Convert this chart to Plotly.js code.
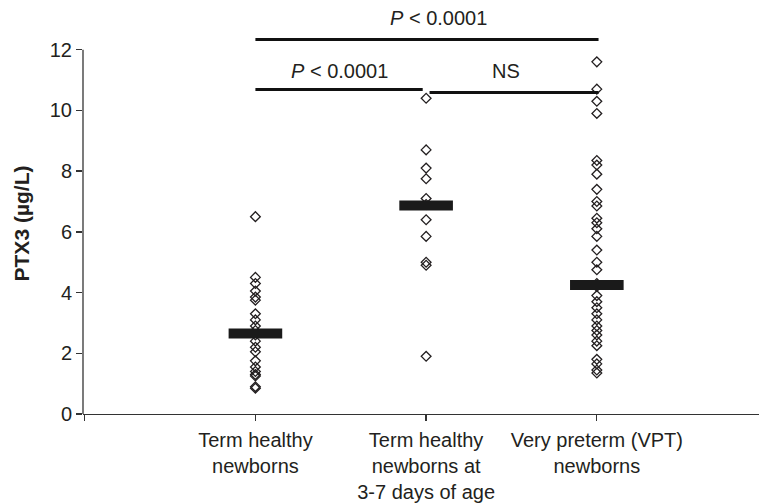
<!DOCTYPE html>
<html>
<head>
<meta charset="utf-8">
<script src="https://cdn.plot.ly/plotly-3.0.1.min.js"></script>
<style>html,body{margin:0;padding:0;background:#fff;}#chart{width:759px;height:504px;}</style>
</head>
<body>
<div id="chart"></div>
<script>
// ---- data ----
const categories = ["Term healthy<br>newborns", "Term healthy<br>newborns at<br>3-7 days of age", "Very preterm (VPT)<br>newborns"];
const termHealthy = [6.5, 4.5, 4.3, 4.05, 3.85, 3.75, 3.3, 3.1, 2.9, 2.75, 2.6, 2.4, 2.2, 2.05, 1.75, 1.55, 1.4, 1.3, 1.25, 0.9, 0.85];
const termHealthy37 = [10.4, 8.7, 8.1, 7.75, 7.1, 6.9, 6.4, 5.85, 5.0, 4.9, 1.9];
const veryPreterm = [11.6, 10.7, 10.3, 9.9, 8.35, 8.2, 7.9, 7.4, 7.0, 6.85, 6.45, 6.3, 6.1, 5.85, 5.4, 5.0, 4.75, 4.3, 4.2, 3.9, 3.7, 3.5, 3.3, 3.1, 2.9, 2.75, 2.6, 2.4, 2.25, 1.8, 1.65, 1.45, 1.35];
const medians = [2.65, 6.87, 4.25];
const yTicks = [0, 2, 4, 6, 8, 10, 12];
// significance brackets
const bracketFrom = [1, 1, 2];
const bracketTo = [3, 2, 3];
const bracketLevel = [12.34, 10.69, 10.59];
const bracketLabels = ["<i>P</i> &lt; 0.0001", "<i>P</i> &lt; 0.0001", "NS"];
const bracketLabelLevel = [13.06, 11.31, 11.31];

const groups = [termHealthy, termHealthy37, veryPreterm];
const ink = "#231f20";
const FONT = "Liberation Sans, Arial, Helvetica, sans-serif";
const yMax = 12.55;

const traces = [];
groups.forEach((vals, i) => {
  traces.push({
    type: "scatter", mode: "markers",
    x: vals.map(() => i + 1), y: vals,
    marker: {symbol: "diamond-open", size: 7.5, color: ink, line: {width: 1.3, color: ink}},
    cliponaxis: false, hoverinfo: "y", showlegend: false
  });
});
const half = 0.157;
medians.forEach((m, i) => {
  traces.push({
    type: "scatter", mode: "lines",
    x: [i + 1 - half, i + 1 + half], y: [m, m],
    line: {color: "#1a1a1a", width: 10}, showlegend: false, hoverinfo: "skip"
  });
});
bracketFrom.forEach((f, i) => {
  const a = f === 1 ? 1.0 : f + 0.02;
  const b = bracketTo[i] === 3 ? 3.01 : bracketTo[i] - 0.02;
  traces.push({
    type: "scatter", mode: "lines",
    x: [a, b], y: [bracketLevel[i], bracketLevel[i]],
    line: {color: "#111", width: 3}, showlegend: false, hoverinfo: "skip"
  });
});

const annotations = bracketLabels.map((t, i) => ({
  text: t, xref: "x", yref: "paper",
  x: (bracketFrom[i] + bracketTo[i]) / 2 + (i === 0 ? 0.07 : (i === 2 ? -0.03 : -0.01)),
  y: bracketLabelLevel[i] / yMax, showarrow: false,
  font: {family: FONT, size: 20, color: ink}, xanchor: "center", yanchor: "middle"
}));

const layout = {
  width: 759, height: 504,
  margin: {l: 83, r: 0, t: 33, b: 90},
  paper_bgcolor: "#fff", plot_bgcolor: "#fff",
  font: {family: FONT, size: 20, color: ink},
  showlegend: false,
  xaxis: {
    range: [-0.01, 3.95], tickmode: "array",
    tickvals: [0, 1, 2, 3], ticktext: ["", ...categories],
    ticks: "outside", ticklen: 6, tickwidth: 1.3, tickcolor: "#333",
    ticklabelstandoff: 2,
    showline: true, linecolor: "#333", linewidth: 1.3,
    showgrid: false, zeroline: false, fixedrange: true,
    tickfont: {family: FONT, size: 20, color: ink}
  },
  yaxis: {
    range: [0, yMax], tickmode: "array", tickvals: yTicks,
    ticktext: yTicks.map(String),
    ticks: "outside", ticklen: 6, tickwidth: 1.3, tickcolor: "#333",
    showline: false, showgrid: false, zeroline: false, fixedrange: true,
    tickfont: {family: FONT, size: 20, color: ink},
    title: {text: "<b>PTX3 (µg/L)</b>", font: {family: FONT, size: 21, color: ink}, standoff: 14}
  },
  shapes: [
    {type: "line", xref: "paper", yref: "y", x0: 0, x1: 0, y0: 0, y1: yTicks[yTicks.length - 1],
     line: {color: "#333", width: 1.3}}
  ],
  annotations: annotations
};

Plotly.newPlot("chart", traces, layout, {displayModeBar: false, staticPlot: true});
</script>
</body>
</html>
